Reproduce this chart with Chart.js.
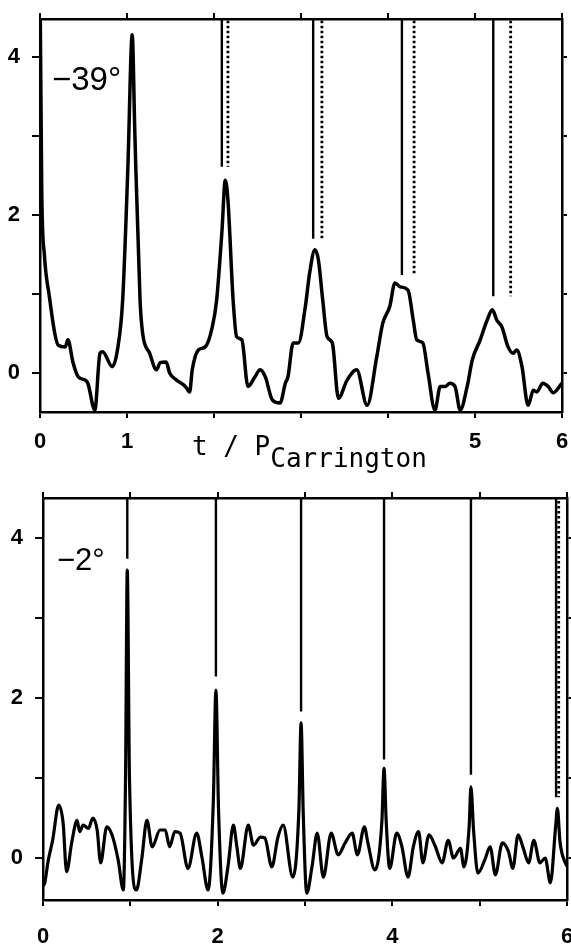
<!DOCTYPE html>
<html>
<head>
<meta charset="utf-8">
<script src="https://cdn.jsdelivr.net/npm/chart.js@4/dist/chart.umd.min.js"></script>
<style>
  html, body { margin: 0; padding: 0; background: #fff; }
  #wrap { position: relative; width: 571px; height: 946px; overflow: hidden; }
  canvas { position: absolute; left: 0; }
  .lbl { position: absolute; color: #000; white-space: nowrap; }
  .lat { font-family: "Liberation Sans", Arial, sans-serif; }
  .ttl { font-family: "DejaVu Sans Mono", monospace; font-size: 26px; line-height: 26px; }
  .ttl sub { font-size: 26px; vertical-align: -12px; line-height: 0; }
</style>
</head>
<body>
<div id="wrap">
  <canvas id="top" width="571" height="470" style="top:0"></canvas>
  <canvas id="bot" width="571" height="476" style="top:470px"></canvas>
  <div class="lbl lat" style="left:52px; top:62px; font-size:33px; line-height:33px;">−39°</div>
  <div class="lbl lat" style="left:57px; top:544px; font-size:31px; line-height:31px;">−2°</div>
  <div class="lbl ttl" style="left:192px; top:433px;">t / P<sub>Carrington</sub></div>
</div>
<script>
// upper panel, latitude -39 deg
const topT = [0, 0.02, 0.05, 0.11, 0.17, 0.21, 0.29, 0.32, 0.38, 0.44, 0.52, 0.55, 0.63, 0.69, 0.72, 0.83, 0.89, 0.95,
  1.01, 1.06, 1.09, 1.15, 1.18, 1.26, 1.34, 1.38, 1.45, 1.49, 1.57, 1.67, 1.72, 1.75, 1.82, 1.90, 1.98,
  2.03, 2.09, 2.13, 2.16, 2.22, 2.26, 2.32, 2.39, 2.47, 2.53, 2.59, 2.67, 2.76, 2.82, 2.85, 2.91, 2.97,
  3.05, 3.10, 3.16, 3.20, 3.25, 3.30, 3.36, 3.43, 3.53, 3.64, 3.76, 3.87, 3.94,
  4.02, 4.08, 4.14, 4.23, 4.29, 4.33, 4.40, 4.46, 4.54, 4.60, 4.66, 4.71, 4.77, 4.83, 4.91, 4.97,
  5.06, 5.14, 5.20, 5.25, 5.31, 5.38, 5.44, 5.48, 5.54, 5.61, 5.67, 5.71, 5.78, 5.84, 5.90, 6.0];
const topV = [5.0, 2.3, 1.5, 0.95, 0.5, 0.35, 0.33, 0.42, 0.13, -0.05, -0.09, -0.13, -0.47, 0.25, 0.27, 0.08, 0.29, 0.92,
  2.6, 4.28, 3.04, 0.92, 0.5, 0.25, 0.04, 0.13, 0.14, 0.0, -0.09, -0.17, -0.24, 0.04, 0.29, 0.33, 0.58,
  0.92, 1.77, 2.44, 2.19, 0.92, 0.46, 0.42, -0.17, -0.05, 0.04, -0.05, -0.34, -0.38, -0.13, -0.05, 0.38, 0.38,
  0.84, 1.27, 1.56, 1.43, 0.92, 0.46, 0.38, -0.32, -0.09, 0.04, -0.41, 0.2, 0.63,
  0.84, 1.14, 1.09, 1.05, 0.67, 0.42, 0.38, 0.0, -0.47, -0.17, -0.17, -0.13, -0.17, -0.47, -0.17, 0.17,
  0.42, 0.67, 0.80, 0.67, 0.58, 0.33, 0.25, 0.29, 0.08, -0.41, -0.22, -0.24, -0.13, -0.17, -0.25, -0.13];
const topSolidX = [2.09, 3.14, 4.16, 5.21];
const topDotX = [2.16, 3.24, 4.30, 5.41];
const topMarkEnd = [2.61, 1.70, 1.24, 0.97];

// lower panel, latitude -2 deg
const botT = [0, 0.02, 0.06, 0.11, 0.18, 0.23, 0.27, 0.33, 0.39, 0.42, 0.46, 0.52, 0.57, 0.62, 0.66, 0.73, 0.79, 0.86,
  0.92, 0.945, 0.965, 0.99, 1.07, 1.13, 1.19, 1.25, 1.34, 1.40, 1.45, 1.51, 1.57, 1.66, 1.76, 1.82,
  1.89, 1.95, 1.98, 2.01, 2.06, 2.12, 2.18, 2.22, 2.26, 2.35, 2.41, 2.49, 2.54, 2.62, 2.69, 2.75,
  2.86, 2.93, 2.955, 2.98, 3.02, 3.08, 3.14, 3.21, 3.30, 3.38, 3.46, 3.54, 3.60, 3.68, 3.72, 3.80,
  3.88, 3.905, 3.93, 3.97, 4.05, 4.11, 4.18, 4.24, 4.30, 4.35, 4.42, 4.49, 4.57, 4.64, 4.70, 4.78, 4.82,
  4.88, 4.90, 4.93, 4.98, 5.06, 5.12, 5.18, 5.26, 5.33, 5.38, 5.44, 5.50, 5.56, 5.62, 5.69, 5.75, 5.81,
  5.87, 5.89, 5.92, 5.98, 6.0];
const botV = [-0.35, -0.31, -0.03, 0.22, 0.66, 0.44, -0.17, 0.2, 0.47, 0.33, 0.41, 0.37, 0.5, 0.35, -0.06, 0.39, 0.29, -0.02,
  -0.4, 1.0, 3.6, 1.0, -0.4, -0.02, 0.47, 0.14, 0.35, 0.35, 0.14, 0.33, 0.31, -0.13, 0.31, 0.01,
  -0.4, 0.7, 2.1, 0.6, -0.44, -0.09, 0.41, 0.14, -0.13, 0.41, 0.16, 0.26, 0.25, -0.11, 0.26, 0.41,
  -0.24, 0.6, 1.69, 0.55, -0.44, -0.11, 0.31, -0.24, 0.31, 0.04, 0.19, 0.31, 0.04, 0.39, 0.19, -0.15,
  0.45, 1.12, 0.45, -0.13, 0.31, 0.14, -0.24, 0.14, 0.33, -0.06, 0.29, 0.15, -0.06, 0.22, 0.0, 0.12, -0.11,
  0.4, 0.89, 0.35, -0.19, -0.02, 0.14, -0.21, 0.19, 0.08, -0.13, 0.29, 0.12, -0.06, 0.22, -0.06, 0.0, -0.31,
  0.4, 0.62, 0.2, -0.06, -0.1];
const botSolidX = [0.965, 1.98, 2.955, 3.905, 4.90, 5.875];
const botMarkEnd = [3.74, 2.27, 1.83, 1.23, 1.04, 0.76];
const botDotX = [5.905];
const botDotEnd = [0.76];

const xTicks = [0, 1, 2, 3, 4, 5, 6];
const yTicks = [0, 1, 2, 3, 4];
const topXLabels = [0, 1, 5, 6];
const botXLabels = [0, 2, 4, 6];
const yLabels = [0, 2, 4];

const INK = '#000';
const tickFont = { family: '"Liberation Sans", Arial, sans-serif', size: 22, weight: 'bold' };

function curve(ts, vs, w) {
  return { data: ts.map((t, i) => ({ x: t, y: vs[i] })), borderColor: INK, borderWidth: w,
    pointRadius: 0, cubicInterpolationMode: 'monotone', fill: false,
    borderJoinStyle: 'round', borderCapStyle: 'round' };
}

function marker(x, end, dotted) {
  return { data: [{ x: x, y: 4.9 }, { x: x, y: end }], borderColor: INK,
    borderWidth: dotted ? 2.8 : 2.4, borderDash: dotted ? [2.5, 2.5] : [], pointRadius: 0, fill: false };
}

function axes(p) {
  const grid = (len) => ({ drawOnChartArea: false, color: INK, lineWidth: 2, tickLength: len, tickWidth: 2, tickColor: INK });
  const border = { display: true, color: INK, width: 2.5 };
  return {
    x: {
      type: 'linear', position: 'bottom', min: 0, max: 6,
      afterBuildTicks: s => { s.ticks = xTicks.map(v => ({ value: v })); },
      // fixed box size; labels at the ends may run past the frame as in the print
      afterFit: s => { s.height = p.bottomH; s.paddingLeft = 0; s.paddingRight = 0; },
      ticks: { color: INK, font: tickFont, padding: p.xPad, autoSkip: false, maxRotation: 0,
        callback: v => p.xLabels.includes(v) ? String(v) : '' },
      grid: grid(6), border: border
    },
    xTop: {
      type: 'linear', position: 'top', min: 0, max: 6,
      afterBuildTicks: s => { s.ticks = xTicks.map(v => ({ value: v })); },
      afterFit: s => { s.height = p.topH; s.paddingLeft = 0; s.paddingRight = 0; },
      ticks: { display: false }, grid: grid(6), border: border
    },
    y: {
      type: 'linear', position: 'left', min: p.yMin, max: p.yMax,
      afterBuildTicks: s => { s.ticks = yTicks.map(v => ({ value: v })); },
      afterFit: s => { s.width = p.leftW; s.paddingTop = 0; s.paddingBottom = 0; },
      ticks: { color: INK, font: tickFont, padding: 12,
        callback: v => yLabels.includes(v) ? String(v) : '' },
      grid: grid(8), border: border
    },
    yRight: {
      type: 'linear', position: 'right', min: p.yMin, max: p.yMax,
      afterBuildTicks: s => { s.ticks = yTicks.map(v => ({ value: v })); },
      afterFit: s => { s.width = p.rightW; s.paddingTop = 0; s.paddingBottom = 0; },
      ticks: { display: false }, grid: grid(5), border: border
    }
  };
}

const baseOpts = {
  responsive: false, animation: false, events: [],
  layout: { autoPadding: false, padding: 0 },
  plugins: { legend: { display: false }, tooltip: { enabled: false } }
};

new Chart('top', {
  type: 'line',
  data: {
    datasets: [
      ...topSolidX.map((x, i) => marker(x, topMarkEnd[i], false)),
      ...topDotX.map((x, i) => marker(x, topMarkEnd[i], true)),
      curve(topT, topV, 3.5)
    ]
  },
  options: Object.assign({}, baseOpts, {
    scales: axes({ xLabels: topXLabels, yMin: -0.494, yMax: 4.48, topH: 19, bottomH: 58, leftW: 40, rightW: 9, xPad: 11 })
  })
});

new Chart('bot', {
  type: 'line',
  data: {
    datasets: [
      ...botSolidX.map((x, i) => marker(x, botMarkEnd[i], false)),
      ...botDotX.map((x, i) => marker(x, botDotEnd[i], true)),
      curve(botT, botV, 3.2)
    ]
  },
  options: Object.assign({}, baseOpts, {
    scales: axes({ xLabels: botXLabels, yMin: -0.525, yMax: 4.5, topH: 28, bottomH: 46, leftW: 43, rightW: 4, xPad: 18 })
  })
});
</script>
</body>
</html>
